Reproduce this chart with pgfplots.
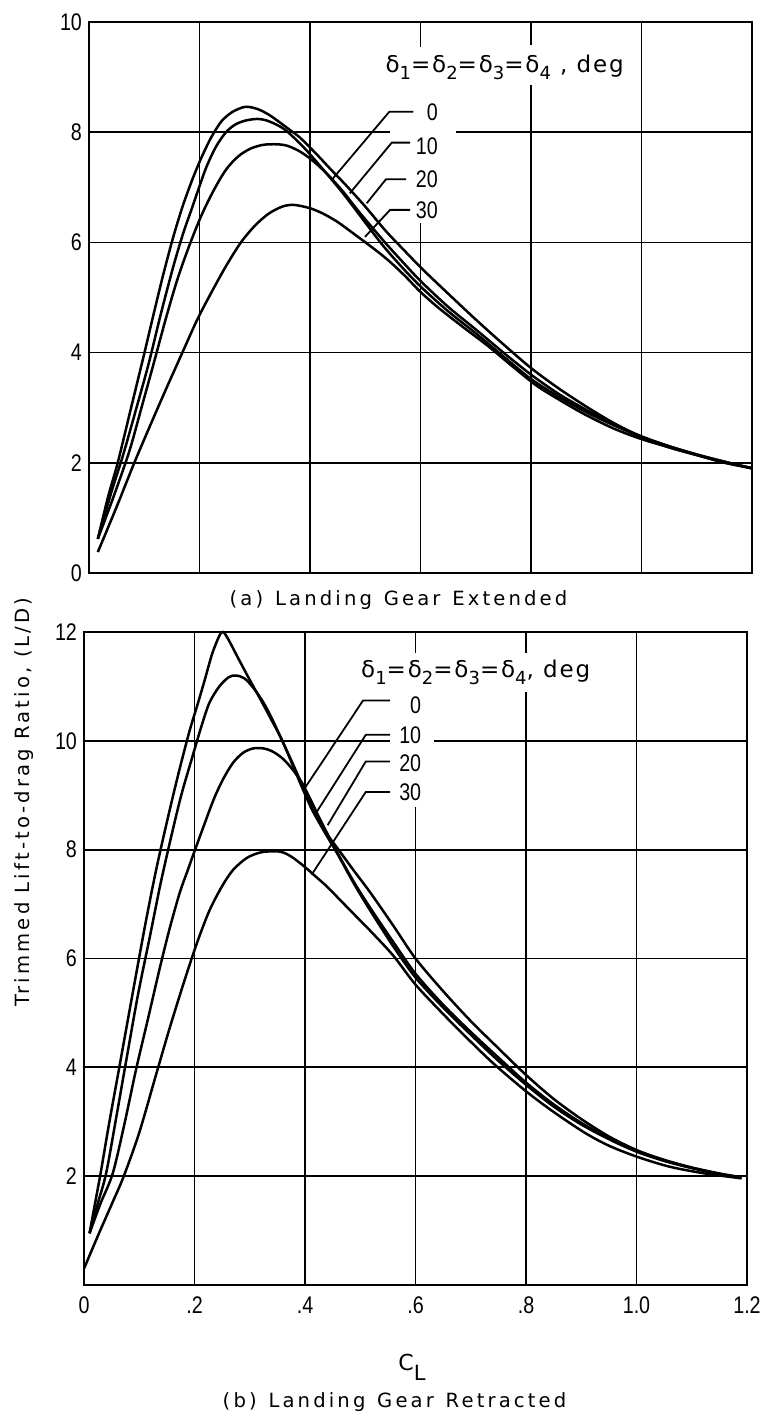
\documentclass[border=0pt]{standalone}
\usepackage{pgfplots}
\pgfplotsset{compat=1.18}
\usepackage{fontspec}
\setmainfont{DejaVu Sans}
\newfontfamily\capfont[LetterSpace=16]{DejaVu Sans}
\newfontfamily\titfont[LetterSpace=8]{DejaVu Sans}
\newfontfamily\numfont[FakeStretch=0.82]{Liberation Sans}

\tikzset{
  ldr/.style={black, line width=0.9pt},
  lbl/.style={font=\numfont\fontsize{12}{14}\selectfont, inner sep=0pt, anchor=east},
}
\newcommand{\sub}[1]{\raisebox{-0.32em}{\fontsize{9}{10}\selectfont #1}}
\pgfplotsset{
  ldstyle/.style={
    scale only axis,
    anchor=south west,
    width=331.5pt,
    xmin=0, xmax=1.2, ymin=0,
    xtick={0,0.2,0.4,0.6,0.8,1.0,1.2},
    grid=major,
    major grid style={black, line width=0.85pt},
    axis line style={black, line width=1.35pt},
    major tick length=0pt,
    clip=false,
    /pgf/number format/assume math mode=true,
    yticklabel style={font=\numfont\fontsize{12}{14}\selectfont},
    xticklabel style={font=\numfont\fontsize{12}{14}\selectfont, yshift=-2.5pt},
  },
  crv/.style={black, line width=1.25pt, smooth, no marks},
}

\begin{document}
\begin{tikzpicture}
\useasboundingbox (0,0) rectangle (383pt,708pt);

% ---------------- (a) Landing gear extended ----------------
\begin{axis}[ldstyle, at={(44.5pt,421.5pt)}, height=275.5pt,
  ymax=10, ytick={0,2,4,6,8,10}, xticklabels={}]
\fill[white] (axis cs:0.545,7.9) rectangle (axis cs:0.664,8.1);
\fill[white] (axis cs:0.59,6.35) rectangle (axis cs:0.62,9.55);
\fill[white] (axis cs:0.78,8.86) rectangle (axis cs:0.82,9.58);

% delta = 0
\addplot[crv] coordinates {(0.016,0.62) (0.035,1.4) (0.052,2.0) (0.075,2.95) (0.099,3.94) (0.117,4.7) (0.134,5.4) (0.152,6.08) (0.169,6.64) (0.187,7.14) (0.204,7.55) (0.222,7.92) (0.24,8.2) (0.26,8.37) (0.283,8.46) (0.305,8.42) (0.325,8.32) (0.345,8.18) (0.365,8.03) (0.382,7.9) (0.41,7.62) (0.439,7.31) (0.463,7.06) (0.50,6.65) (0.536,6.22) (0.57,5.86) (0.605,5.5) (0.65,5.07) (0.7,4.6) (0.75,4.15) (0.8,3.72) (0.85,3.35) (0.9,3.02) (0.95,2.72) (1.0,2.47) (1.05,2.28) (1.1,2.14) (1.15,2.0) (1.2,1.9)};
% delta = 10
\addplot[crv] coordinates {(0.016,0.62) (0.04,1.45) (0.062,2.15) (0.086,3.0) (0.108,3.8) (0.13,4.7) (0.152,5.54) (0.17,6.15) (0.187,6.64) (0.2,7.02) (0.213,7.38) (0.23,7.74) (0.248,8.0) (0.265,8.14) (0.283,8.21) (0.305,8.24) (0.325,8.2) (0.354,8.05) (0.389,7.72) (0.424,7.32) (0.459,6.9) (0.494,6.44) (0.529,5.98) (0.56,5.62) (0.6,5.2) (0.65,4.75) (0.7,4.35) (0.75,3.93) (0.8,3.52) (0.85,3.2) (0.9,2.92) (0.95,2.68) (1.0,2.47) (1.05,2.3) (1.1,2.15) (1.15,2.02) (1.2,1.9)};
% delta = 20
\addplot[crv] coordinates {(0.016,0.62) (0.045,1.4) (0.073,2.21) (0.095,3.0) (0.117,3.8) (0.14,4.65) (0.161,5.36) (0.183,5.98) (0.204,6.5) (0.226,6.95) (0.248,7.32) (0.27,7.56) (0.292,7.7) (0.315,7.77) (0.34,7.78) (0.36,7.75) (0.385,7.63) (0.41,7.44) (0.435,7.2) (0.46,6.92) (0.485,6.6) (0.51,6.3) (0.54,5.95) (0.57,5.62) (0.6,5.3) (0.65,4.83) (0.7,4.42) (0.75,4.0) (0.8,3.6) (0.85,3.25) (0.9,2.96) (0.95,2.7) (1.0,2.48) (1.05,2.3) (1.1,2.15) (1.15,2.02) (1.2,1.9)};
% delta = 30
\addplot[crv] coordinates {(0.016,0.38) (0.05,1.2) (0.082,2.0) (0.11,2.66) (0.14,3.35) (0.169,4.0) (0.196,4.6) (0.222,5.1) (0.248,5.57) (0.275,6.0) (0.3,6.3) (0.325,6.52) (0.35,6.65) (0.371,6.68) (0.4,6.62) (0.424,6.52) (0.45,6.37) (0.476,6.18) (0.503,5.98) (0.529,5.78) (0.55,5.6) (0.573,5.38) (0.6,5.1) (0.634,4.8) (0.68,4.44) (0.722,4.12) (0.77,3.72) (0.81,3.4) (0.85,3.15) (0.897,2.88) (0.95,2.62) (1.0,2.43) (1.05,2.28) (1.1,2.14) (1.15,2.01) (1.2,1.9)};

% leaders
\draw[ldr] (axis cs:0.587,8.37) -- (axis cs:0.5435,8.37) -- (axis cs:0.439,7.13);
\draw[ldr] (axis cs:0.581,7.81) -- (axis cs:0.548,7.81) -- (axis cs:0.472,6.89);
\draw[ldr] (axis cs:0.574,7.145) -- (axis cs:0.5375,7.145) -- (axis cs:0.5026,6.71);
\draw[ldr] (axis cs:0.581,6.59) -- (axis cs:0.545,6.59) -- (axis cs:0.4995,6.10);
\node[lbl] at (axis cs:0.632,8.36) {0};
\node[lbl] at (axis cs:0.632,7.75) {10};
\node[lbl] at (axis cs:0.632,7.14) {20};
\node[lbl] at (axis cs:0.632,6.58) {30};
\node[anchor=west, inner sep=0pt, font=\titfont\fontsize{11.5}{13}\selectfont]
  at (axis cs:0.536,9.18) {δ\sub{1}=δ\sub{2}=δ\sub{3}=δ\sub{4} , deg};
\end{axis}

% ---------------- (b) Landing gear retracted ----------------
\begin{axis}[ldstyle, at={(42pt,65.5pt)}, height=326.5pt,
  ymax=12, ytick={2,4,6,8,10,12},
  xticklabels={0,.2,.4,.6,.8,1.0,1.2}]
\fill[white] (axis cs:0.554,9.9) rectangle (axis cs:0.634,10.1);
\fill[white] (axis cs:0.585,8.79) rectangle (axis cs:0.615,11.62);
\fill[white] (axis cs:0.785,10.9) rectangle (axis cs:0.815,11.62);

% delta = 0
\addplot[crv] coordinates {(0.01,0.95) (0.02,1.5) (0.03,2.05) (0.046,3.0) (0.063,3.95) (0.087,5.3) (0.111,6.63) (0.131,7.65) (0.151,8.55) (0.171,9.4) (0.191,10.18) (0.205,10.65) (0.218,11.1) (0.232,11.6) (0.245,11.93) (0.252,12.0) (0.262,11.85) (0.28,11.5) (0.30,11.12) (0.32,10.75) (0.34,10.37) (0.36,9.98) (0.386,9.35) (0.412,8.75) (0.435,8.35) (0.457,8.05) (0.488,7.62) (0.519,7.2) (0.56,6.6) (0.6,6.0) (0.65,5.4) (0.7,4.85) (0.75,4.35) (0.8,3.86) (0.85,3.42) (0.9,3.05) (0.95,2.73) (1.0,2.48) (1.05,2.3) (1.1,2.16) (1.15,2.05) (1.19,1.98)};
% delta = 10
\addplot[crv] coordinates {(0.01,0.95) (0.025,1.5) (0.04,2.05) (0.057,3.0) (0.076,4.1) (0.098,5.35) (0.12,6.44) (0.138,7.35) (0.156,8.16) (0.176,9.0) (0.196,9.7) (0.212,10.25) (0.227,10.7) (0.245,11.0) (0.262,11.17) (0.275,11.2) (0.29,11.15) (0.306,10.98) (0.325,10.7) (0.342,10.37) (0.36,9.97) (0.377,9.6) (0.395,9.18) (0.412,8.78) (0.43,8.42) (0.46,7.9) (0.49,7.35) (0.52,6.85) (0.56,6.22) (0.6,5.65) (0.65,5.1) (0.7,4.6) (0.75,4.12) (0.8,3.68) (0.85,3.28) (0.9,2.95) (0.95,2.68) (1.0,2.45) (1.05,2.28) (1.1,2.15) (1.15,2.04) (1.19,1.97)};
% delta = 20
\addplot[crv] coordinates {(0.01,0.95) (0.03,1.5) (0.052,2.05) (0.073,2.95) (0.094,3.95) (0.116,4.9) (0.138,5.86) (0.155,6.55) (0.173,7.2) (0.187,7.6) (0.2,7.97) (0.218,8.47) (0.235,8.93) (0.252,9.3) (0.27,9.6) (0.288,9.78) (0.306,9.86) (0.325,9.86) (0.342,9.8) (0.36,9.67) (0.377,9.48) (0.395,9.22) (0.412,8.88) (0.43,8.5) (0.46,7.92) (0.49,7.38) (0.52,6.9) (0.56,6.3) (0.6,5.72) (0.65,5.15) (0.7,4.65) (0.75,4.18) (0.8,3.72) (0.85,3.32) (0.9,2.98) (0.95,2.7) (1.0,2.47) (1.05,2.29) (1.1,2.15) (1.15,2.04) (1.19,1.97)};
% delta = 30
\addplot[crv] coordinates {(0.0,0.3) (0.025,0.9) (0.05,1.48) (0.072,2.0) (0.1,2.8) (0.13,3.85) (0.155,4.72) (0.182,5.6) (0.205,6.3) (0.227,6.88) (0.25,7.33) (0.27,7.63) (0.295,7.85) (0.32,7.95) (0.345,7.97) (0.36,7.95) (0.377,7.86) (0.4,7.68) (0.42,7.5) (0.44,7.32) (0.465,7.06) (0.49,6.8) (0.519,6.5) (0.56,6.05) (0.6,5.52) (0.65,4.98) (0.687,4.6) (0.74,4.08) (0.8,3.56) (0.85,3.18) (0.906,2.8) (0.95,2.56) (1.0,2.36) (1.05,2.2) (1.085,2.12) (1.13,2.04) (1.19,1.96)};

% leaders
\draw[ldr] (axis cs:0.554,10.74) -- (axis cs:0.505,10.74) -- (axis cs:0.399,9.12);
\draw[ldr] (axis cs:0.554,10.11) -- (axis cs:0.51,10.11) -- (axis cs:0.421,8.69);
\draw[ldr] (axis cs:0.554,9.62) -- (axis cs:0.51,9.62) -- (axis cs:0.441,8.45);
\draw[ldr] (axis cs:0.554,9.06) -- (axis cs:0.51,9.06) -- (axis cs:0.412,7.54);
\node[lbl] at (axis cs:0.611,10.66) {0};
\node[lbl] at (axis cs:0.611,10.1) {10};
\node[lbl] at (axis cs:0.611,9.58) {20};
\node[lbl] at (axis cs:0.611,9.05) {30};
\node[anchor=west, inner sep=0pt, font=\titfont\fontsize{11.5}{13}\selectfont]
  at (axis cs:0.501,11.26) {δ\sub{1}=δ\sub{2}=δ\sub{3}=δ\sub{4}, deg};
\end{axis}

% ---------------- texts ----------------
\node[font=\capfont\fontsize{9.8}{12}\selectfont, inner sep=0pt] at (199.25pt,408pt)
  {(a)\hspace{0.6em}Landing\hspace{0.6em}Gear\hspace{0.6em}Extended};
\node[font=\capfont\fontsize{9.8}{12}\selectfont, inner sep=0pt] at (197.25pt,7pt)
  {(b)\hspace{0.6em}Landing\hspace{0.6em}Gear\hspace{0.6em}Retracted};
\node[font=\capfont\fontsize{9.8}{12}\selectfont, inner sep=0pt, rotate=90] at (12pt,307pt)
  {Trimmed Lift-to-drag Ratio, (L/D)};
\node[font=\capfont\fontsize{11}{13}\selectfont, inner sep=0pt] at (206pt,24.5pt)
  {C\raisebox{-0.45em}{\fontsize{10.5}{12}\selectfont L}};
\end{tikzpicture}
\end{document}
